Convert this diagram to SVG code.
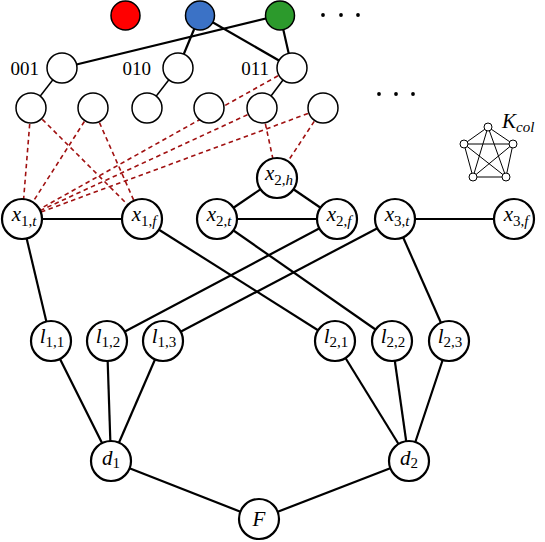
<svg xmlns="http://www.w3.org/2000/svg" width="545" height="542" viewBox="0 0 545 542">
<style>
.e{stroke:#000;stroke-width:2.2;fill:none}
.t{stroke:#000;stroke-width:1.5;fill:none}
.d{stroke:#a01010;stroke-width:1.6;stroke-dasharray:4.5,3.5;fill:none}
.n{fill:#fff;stroke:#000;stroke-width:2.2}
.s{fill:#fff;stroke:#000;stroke-width:1.5}
.k{fill:#fff;stroke:#000;stroke-width:1}
.ke{stroke:#000;stroke-width:1;fill:none}
text{font-family:"Liberation Serif","DejaVu Serif",serif;font-size:21px;fill:#000}
.num{font-size:19px}
.m{font-style:italic}
.sub{font-size:15px}
</style>
<g id="connectors">
<g id="dashed">
<line class="d" x1="31" y1="108" x2="22" y2="219"/>
<line class="d" x1="31" y1="108" x2="142" y2="219"/>
<line class="d" x1="93" y1="108" x2="22" y2="219"/>
<line class="d" x1="93" y1="108" x2="142" y2="219"/>
<line class="d" x1="292" y1="68" x2="22" y2="219"/>
<line class="d" x1="262" y1="108" x2="22" y2="219"/>
<line class="d" x1="323" y1="108" x2="22" y2="219"/>
<line class="d" x1="262" y1="108" x2="277" y2="178"/>
<line class="d" x1="323" y1="108" x2="277" y2="178"/>
</g>
<line class="e" x1="200" y1="15" x2="178" y2="68"/>
<line class="e" x1="200" y1="15" x2="292" y2="68"/>
<line class="e" x1="280" y1="15" x2="62" y2="68"/>
<line class="e" x1="280" y1="15" x2="292" y2="68"/>
<line class="t" x1="62" y1="68" x2="31" y2="108"/>
<line class="t" x1="178" y1="68" x2="147" y2="108"/>
<line class="t" x1="292" y1="68" x2="262" y2="108"/>
<line class="e" x1="22" y1="219" x2="142" y2="219"/>
<line class="e" x1="217" y1="219" x2="337" y2="219"/>
<line class="e" x1="277" y1="178" x2="217" y2="219"/>
<line class="e" x1="277" y1="178" x2="337" y2="219"/>
<line class="e" x1="395" y1="219" x2="514" y2="219"/>
<line class="e" x1="22" y1="219" x2="51" y2="341"/>
<line class="e" x1="142" y1="219" x2="335" y2="341"/>
<line class="e" x1="217" y1="219" x2="392" y2="341"/>
<line class="e" x1="337" y1="219" x2="107" y2="341"/>
<line class="e" x1="395" y1="219" x2="163" y2="341"/>
<line class="e" x1="395" y1="219" x2="449" y2="341"/>
<line class="e" x1="51" y1="341" x2="111" y2="461"/>
<line class="e" x1="107" y1="341" x2="111" y2="461"/>
<line class="e" x1="163" y1="341" x2="111" y2="461"/>
<line class="e" x1="335" y1="341" x2="409" y2="461"/>
<line class="e" x1="392" y1="341" x2="409" y2="461"/>
<line class="e" x1="449" y1="341" x2="409" y2="461"/>
<line class="e" x1="111" y1="461" x2="259" y2="519"/>
<line class="e" x1="409" y1="461" x2="259" y2="519"/>
</g>
<g id="colors">
<circle id="red" cx="125.5" cy="15.5" r="14.5" fill="#ff0000" stroke="#000" stroke-width="1.5"/>
<circle id="blue" cx="200" cy="15.5" r="14.5" fill="#3b72c6" stroke="#000" stroke-width="1.5"/>
<circle id="green" cx="280" cy="15.5" r="14.5" fill="#2c9a2c" stroke="#000" stroke-width="1.5"/>
</g>
<g id="dots-top" fill="#000"><circle cx="323" cy="15" r="1.9"/><circle cx="341" cy="15" r="1.9"/><circle cx="358" cy="15" r="1.9"/></g>
<g id="dots-mid" fill="#000"><circle cx="379" cy="94" r="1.9"/><circle cx="396" cy="94" r="1.9"/><circle cx="413" cy="94" r="1.9"/></g>
<g id="t001"><circle class="s" cx="62" cy="68" r="15"/><text class="num" x="39" y="75" text-anchor="end">001</text></g>
<g id="t010"><circle class="s" cx="178" cy="68" r="15"/><text class="num" x="151" y="75" text-anchor="end">010</text></g>
<g id="t011"><circle class="s" cx="292" cy="68" r="15"/><text class="num" x="269" y="75" text-anchor="end">011</text></g>
<g id="leaf1"><circle class="s" cx="31" cy="108" r="15"/></g>
<g id="leaf2"><circle class="s" cx="93" cy="108" r="15"/></g>
<g id="leaf3"><circle class="s" cx="147" cy="108" r="15"/></g>
<g id="leaf4"><circle class="s" cx="209" cy="108" r="15"/></g>
<g id="leaf5"><circle class="s" cx="262" cy="108" r="15"/></g>
<g id="leaf6"><circle class="s" cx="323" cy="108" r="15"/></g>
<g id="x1t"><circle class="n" cx="22" cy="219" r="20"/><text x="24" y="221" text-anchor="middle"><tspan class="m">x</tspan><tspan class="sub" dy="5">1,</tspan><tspan class="sub m">t</tspan></text></g>
<g id="x1f"><circle class="n" cx="142" cy="219" r="20"/><text x="144" y="221" text-anchor="middle"><tspan class="m">x</tspan><tspan class="sub" dy="5">1,</tspan><tspan class="sub m">f</tspan></text></g>
<g id="x2h"><circle class="n" cx="277" cy="178" r="20"/><text x="279" y="180" text-anchor="middle"><tspan class="m">x</tspan><tspan class="sub" dy="5">2,</tspan><tspan class="sub m">h</tspan></text></g>
<g id="x2t"><circle class="n" cx="217" cy="219" r="20"/><text x="219" y="221" text-anchor="middle"><tspan class="m">x</tspan><tspan class="sub" dy="5">2,</tspan><tspan class="sub m">t</tspan></text></g>
<g id="x2f"><circle class="n" cx="337" cy="219" r="20"/><text x="339" y="221" text-anchor="middle"><tspan class="m">x</tspan><tspan class="sub" dy="5">2,</tspan><tspan class="sub m">f</tspan></text></g>
<g id="x3t"><circle class="n" cx="395" cy="219" r="20"/><text x="397" y="221" text-anchor="middle"><tspan class="m">x</tspan><tspan class="sub" dy="5">3,</tspan><tspan class="sub m">t</tspan></text></g>
<g id="x3f"><circle class="n" cx="514" cy="219" r="20"/><text x="516" y="221" text-anchor="middle"><tspan class="m">x</tspan><tspan class="sub" dy="5">3,</tspan><tspan class="sub m">f</tspan></text></g>
<g id="l11"><circle class="n" cx="51" cy="341" r="20"/><text x="52" y="343" text-anchor="middle"><tspan class="m">l</tspan><tspan class="sub" dy="4">1,1</tspan></text></g>
<g id="l12"><circle class="n" cx="107" cy="341" r="20"/><text x="108" y="343" text-anchor="middle"><tspan class="m">l</tspan><tspan class="sub" dy="4">1,2</tspan></text></g>
<g id="l13"><circle class="n" cx="163" cy="341" r="20"/><text x="164" y="343" text-anchor="middle"><tspan class="m">l</tspan><tspan class="sub" dy="4">1,3</tspan></text></g>
<g id="l21"><circle class="n" cx="335" cy="341" r="20"/><text x="336" y="343" text-anchor="middle"><tspan class="m">l</tspan><tspan class="sub" dy="4">2,1</tspan></text></g>
<g id="l22"><circle class="n" cx="392" cy="341" r="20"/><text x="393" y="343" text-anchor="middle"><tspan class="m">l</tspan><tspan class="sub" dy="4">2,2</tspan></text></g>
<g id="l23"><circle class="n" cx="449" cy="341" r="20"/><text x="450" y="343" text-anchor="middle"><tspan class="m">l</tspan><tspan class="sub" dy="4">2,3</tspan></text></g>
<g id="d1"><circle class="n" cx="111" cy="461" r="20"/><text x="111" y="465" text-anchor="middle"><tspan class="m">d</tspan><tspan class="sub" dy="3">1</tspan></text></g>
<g id="d2"><circle class="n" cx="409" cy="461" r="20"/><text x="409" y="465" text-anchor="middle"><tspan class="m">d</tspan><tspan class="sub" dy="3">2</tspan></text></g>
<g id="F"><circle class="n" cx="259" cy="519" r="20"/><text x="259" y="526" text-anchor="middle" class="m">F</text></g>
<g id="Kcol">
<line class="ke" x1="488" y1="127" x2="464" y2="144"/>
<line class="ke" x1="488" y1="127" x2="513" y2="144"/>
<line class="ke" x1="488" y1="127" x2="473" y2="177"/>
<line class="ke" x1="488" y1="127" x2="506" y2="177"/>
<line class="ke" x1="464" y1="144" x2="513" y2="144"/>
<line class="ke" x1="464" y1="144" x2="473" y2="177"/>
<line class="ke" x1="464" y1="144" x2="506" y2="177"/>
<line class="ke" x1="513" y1="144" x2="473" y2="177"/>
<line class="ke" x1="513" y1="144" x2="506" y2="177"/>
<line class="ke" x1="473" y1="177" x2="506" y2="177"/>
<circle class="k" cx="488" cy="127" r="4"/>
<circle class="k" cx="464" cy="144" r="4"/>
<circle class="k" cx="513" cy="144" r="4"/>
<circle class="k" cx="473" cy="177" r="4"/>
<circle class="k" cx="506" cy="177" r="4"/>
<text x="502" y="128"><tspan class="m">K</tspan><tspan class="sub m" dy="4">col</tspan></text>
</g>
</svg>
